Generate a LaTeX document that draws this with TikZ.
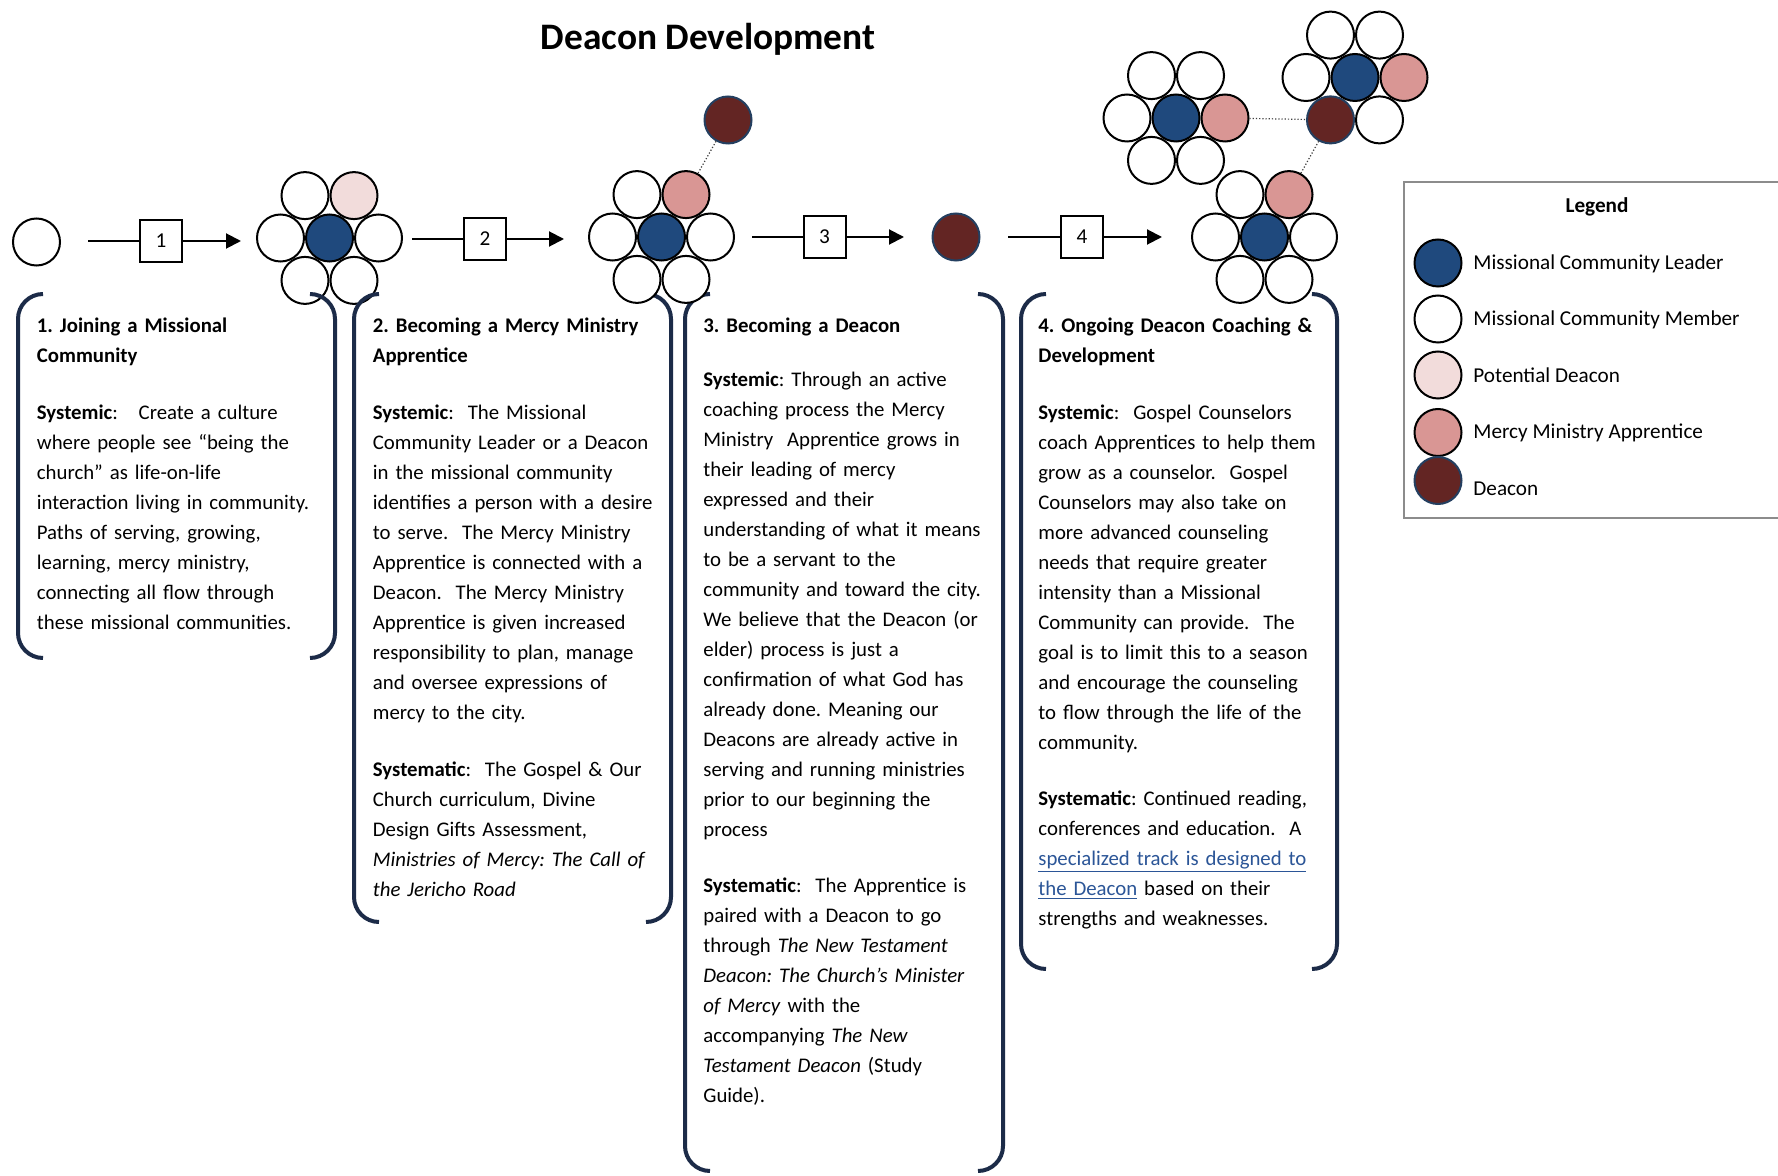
\documentclass[tikz,border=0pt]{standalone}
\usepackage{fontspec}
\setmainfont{Carlito}
\usetikzlibrary{calc,arrows.meta}
\frenchspacing

\definecolor{leaderblue}{HTML}{1F497D}
\definecolor{potentialpink}{HTML}{F2DCDB}
\definecolor{apprenticepink}{HTML}{D99694}
\definecolor{deaconred}{HTML}{632523}
\definecolor{deaconline}{HTML}{243F60}
\definecolor{bracketnavy}{HTML}{1C2B48}
\definecolor{linkblue}{HTML}{2B5597}
\definecolor{framegray}{HTML}{8C8C8C}

% one petal group: #1 name, #2 centre, #3..#8 petals (right, upper right,
% upper left, left, lower left, lower right), #9 centre style
\newcommand\flower[9]{%
  \coordinate (#1) at (#2);
  \node[#3] (#1-r)  at ($(#1)+(49,0)$) {};
  \node[#4] (#1-ur) at ($(#1)+(24.5,-42.4)$) {};
  \node[#5] (#1-ul) at ($(#1)+(-24.5,-42.4)$) {};
  \node[#6] (#1-l)  at ($(#1)+(-49,0)$) {};
  \node[#7] (#1-ll) at ($(#1)+(-24.5,42.4)$) {};
  \node[#8] (#1-lr) at ($(#1)+(24.5,42.4)$) {};
  \node[#9] (#1-c)  at (#1) {};
}

% bracket pair around a text column: left, top, right, bottom
\newcommand\bracketpair[4]{%
  \draw[bracketline] ({#1+25},#2) -- (#1,#2) -- (#1,#4) -- ({#1+25},#4);
  \draw[bracketline] ({#3-25},#2) -- (#3,#2) -- (#3,#4) -- ({#3-25},#4);
}

\begin{document}
\begin{tikzpicture}[x=0.5pt,y=-0.5pt,
  person/.style={circle, draw=black, line width=1pt, minimum size=23.5pt, inner sep=0pt},
  member/.style={person, fill=white},
  leader/.style={person, fill=leaderblue},
  potential/.style={person, fill=potentialpink},
  apprentice/.style={person, fill=apprenticepink},
  deacon/.style={person, fill=deaconred, draw=deaconline},
  numbox/.style={draw=black, line width=1pt, fill=white, minimum size=21pt, inner sep=0pt,
    font=\fontsize{10.6}{13}\selectfont},
  flowline/.style={draw=black, line width=1pt},
  flowarrow/.style={flowline, -{Triangle[length=7.5pt,width=7.5pt]}},
  linkline/.style={densely dotted, line width=0.6pt, draw=black!75},
  bracketline/.style={draw=bracketnavy, line width=2pt, rounded corners=12.5pt},
  textblock/.style={anchor=north west, inner sep=0pt, text width=170pt, align=left,
    font=\fontsize{10.4}{15}\selectfont},
  legendtext/.style={anchor=base west, inner sep=0pt, font=\fontsize{10.6}{13}\selectfont},
]
\useasboundingbox (0,0) rectangle (1778,1176);
\fill[white] (0,0) rectangle (1778,1176);

% title
\node[anchor=base, inner sep=0pt, font=\fontsize{18.7}{22}\selectfont\bfseries]
  (title) at (708,50) {Deacon Development};

% stage 0: a single person
\node[member] (start) at (36.5,242) {};
% stage 1 (lies under the column brackets)
\flower{fa}{329.5,238}{member}{potential}{member}{member}{member}{member}{leader}

% text columns and their brackets
\bracketpair{18}{294}{335}{658}
\bracketpair{354}{294}{671}{922}
\bracketpair{685}{294}{1003}{1171}
\bracketpair{1021}{294}{1337}{969}

\node[textblock] (col1) at (36.5,311) {\strut\textbf{1. Joining a Missional}\\
\textbf{Community}\\[13.5pt]
\textbf{Systemic}:\ \ \ Create a culture\\
where people see “being the\\
church” as life-on-life\\
interaction living in community.\\
Paths of serving, growing,\\
learning, mercy ministry,\\
connecting all flow through\\
these missional communities.};

\node[textblock] (col2) at (372.5,311) {\strut\textbf{2. Becoming a Mercy Ministry}\\
\textbf{Apprentice}\\[13.5pt]
\textbf{Systemic}:\ \ The Missional\\
Community Leader or a Deacon\\
in the missional community\\
identifies a person with a desire\\
to serve.\ \ The Mercy Ministry\\
Apprentice is connected with a\\
Deacon.\ \ The Mercy Ministry\\
Apprentice is given increased\\
responsibility to plan, manage\\
and oversee expressions of\\
mercy to the city.\\[13.5pt]
\textbf{Systematic}:\ \ The Gospel \& Our\\
Church curriculum, Divine\\
Design Gifts Assessment,\\
\textit{Ministries of Mercy: The Call of}\\
\textit{the Jericho Road}};

\node[textblock] (col3) at (703,311) {\strut\textbf{3. Becoming a Deacon}\\[12.3pt]
\textbf{Systemic}: Through an active\\
coaching process the Mercy\\
Ministry\ \ Apprentice grows in\\
their leading of mercy\\
expressed and their\\
understanding of what it means\\
to be a servant to the\\
community and toward the city.\\
We believe that the Deacon (or\\
elder) process is just a\\
confirmation of what God has\\
already done. Meaning our\\
Deacons are already active in\\
serving and running ministries\\
prior to our beginning the\\
process\\[13pt]
\textbf{Systematic}:\ \ The Apprentice is\\
paired with a Deacon to go\\
through \textit{The New Testament}\\
\textit{Deacon: The Church’s Minister}\\
\textit{of Mercy} with the\\
accompanying \textit{The New}\\
\textit{Testament Deacon} (Study\\
Guide).};

\node[textblock] (col4) at (1038,311) {\strut\textbf{4. Ongoing Deacon Coaching \&}\\
\textbf{Development}\\[13.5pt]
\textbf{Systemic}:\ \ Gospel Counselors\\
coach Apprentices to help them\\
grow as a counselor.\ \ Gospel\\
Counselors may also take on\\
more advanced counseling\\
needs that require greater\\
intensity than a Missional\\
Community can provide.\ \ The\\
goal is to limit this to a season\\
and encourage the counseling\\
to flow through the life of the\\
community.\\[13pt]
\textbf{Systematic}: Continued reading,\\
conferences and education.\ \ A\\
\textcolor{linkblue}{\underline{specialized track is designed to}}\\
\textcolor{linkblue}{\underline{the Deacon}} based on their\\
strengths and weaknesses.};

% stage 2
\flower{fb}{661.5,237}{member}{apprentice}{member}{member}{member}{member}{leader}
\node[deacon] (mentor) at (728,120) {};
\draw[linkline] (mentor) -- (fb-ur);
% stage 3
\node[deacon] (newdeacon) at (956,237) {};
% stage 4
\flower{fc}{1264.5,237}{member}{apprentice}{member}{member}{member}{member}{leader}
\flower{fd}{1176,118}{apprentice}{member}{member}{member}{member}{member}{leader}
\flower{fe}{1355,77.5}{apprentice}{member}{member}{member}{deacon}{member}{leader}
\draw[linkline] (fd-r) -- (fe-ll);
\draw[linkline] (fe-ll) -- (fc-ur);

% numbered steps
\coordinate (s1) at (88,241);   \node[numbox] (n1) at (161,241) {1};  \coordinate (e1) at (241,241);
\coordinate (s2) at (412,239);  \node[numbox] (n2) at (485,239) {2};  \coordinate (e2) at (564,239);
\coordinate (s3) at (752,237);  \node[numbox] (n3) at (824.5,237) {3}; \coordinate (e3) at (904,237);
\coordinate (s4) at (1008,237); \node[numbox] (n4) at (1082,237) {4}; \coordinate (e4) at (1162,237);
\foreach \k in {1,2,3,4} {
  \draw[flowline] (s\k) -- (n\k);
  \draw[flowarrow] (n\k) -- (e\k);
}

% legend
\draw[draw=framegray, line width=1pt] (1778,182) -- (1404,182) -- (1404,518) -- (1778,518);
\node[anchor=base, inner sep=0pt, font=\fontsize{10.6}{13}\selectfont\bfseries] (legendtitle) at (1597,213) {Legend};
\node[leader]     (lg1) at (1438,263) {};
\node[member]     (lg2) at (1438,319) {};
\node[potential]  (lg3) at (1438,375) {};
\node[apprentice] (lg4) at (1438,432.5) {};
\node[deacon]     (lg5) at (1438,480.5) {};
\node[legendtext] (lt1) at (1473,270) {Missional Community Leader};
\node[legendtext] (lt2) at (1473,326) {Missional Community Member};
\node[legendtext] (lt3) at (1473,382.5) {Potential Deacon};
\node[legendtext] (lt4) at (1473,439) {Mercy Ministry Apprentice};
\node[legendtext] (lt5) at (1473,495) {Deacon};
\end{tikzpicture}
\end{document}
